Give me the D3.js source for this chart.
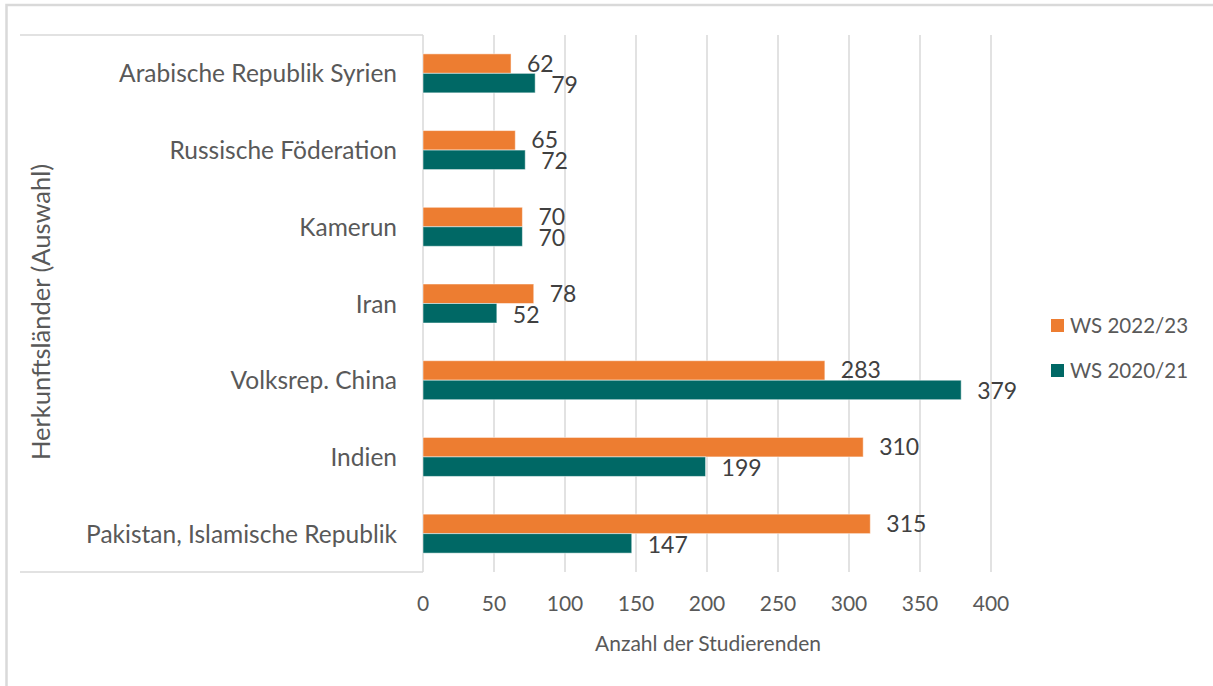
<!DOCTYPE html>
<html>
<head>
<meta charset="utf-8">
<script src="https://cdn.jsdelivr.net/npm/d3@7"></script>
<style>
  body { margin: 0; background: #fff; }
  svg { display: block; font-family: Lato, "Open Sans", sans-serif; }
</style>
</head>
<body>
<div id="chart"></div>
<script>
// categories top to bottom
const countries = [
  "Arabische Republik Syrien",
  "Russische Föderation",
  "Kamerun",
  "Iran",
  "Volksrep. China",
  "Indien",
  "Pakistan, Islamische Republik"
];
const seriesNames = ["WS 2022/23", "WS 2020/21"];
const ws2223 = [62, 65, 70, 78, 283, 310, 315];
const ws2021 = [79, 72, 70, 52, 379, 199, 147];
const xTicks = [0, 50, 100, 150, 200, 250, 300, 350, 400];

const colors = { "WS 2022/23": "#ED7D31", "WS 2020/21": "#006865" };

const W = 1213, H = 686;
const plot = { left: 423, right: 991, top: 35, bottom: 572 };

const svg = d3.select("#chart").append("svg")
  .attr("width", W)
  .attr("height", H);

// outer frame (runs off the right and bottom edge)
svg.append("rect")
  .attr("x", 6.5).attr("y", 5)
  .attr("width", 1400).attr("height", 900)
  .attr("fill", "none")
  .attr("stroke", "#d9d9d9")
  .attr("stroke-width", 2.5);

const x = d3.scaleLinear().domain([0, 400]).range([plot.left, plot.right]);
const y = d3.scaleBand().domain(countries).range([plot.top, plot.bottom]).padding(0);
const groupH = 39;
const ySub = d3.scaleBand().domain(seriesNames)
  .range([(y.bandwidth() - groupH) / 2, (y.bandwidth() + groupH) / 2]);

// gridlines
svg.append("g").selectAll("line")
  .data(xTicks)
  .enter().append("line")
  .attr("x1", d => x(d)).attr("x2", d => x(d))
  .attr("y1", plot.top).attr("y2", plot.bottom)
  .attr("stroke", "#d9d9d9")
  .attr("stroke-width", 1.5);

// category axis box lines
svg.append("line")
  .attr("x1", 20).attr("x2", plot.left)
  .attr("y1", plot.top).attr("y2", plot.top)
  .attr("stroke", "#d9d9d9").attr("stroke-width", 1.5);
svg.append("line")
  .attr("x1", 20).attr("x2", plot.left)
  .attr("y1", plot.bottom).attr("y2", plot.bottom)
  .attr("stroke", "#d9d9d9").attr("stroke-width", 1.5);

const rows = countries.map((c, i) => ({ country: c, values: [
  { series: "WS 2022/23", value: ws2223[i] },
  { series: "WS 2020/21", value: ws2021[i] }
]}));

const g = svg.append("g").selectAll("g")
  .data(rows)
  .enter().append("g")
  .attr("transform", d => `translate(0,${y(d.country)})`);

g.selectAll("rect")
  .data(d => d.values)
  .enter().append("rect")
  .attr("x", x(0))
  .attr("y", d => ySub(d.series))
  .attr("width", d => x(d.value) - x(0))
  .attr("height", ySub.bandwidth())
  .attr("fill", d => colors[d.series])
  .attr("stroke", "#fff")
  .attr("stroke-opacity", 0.5)
  .attr("stroke-width", 1);

// value labels (the reference lets close pairs touch)
g.selectAll("text")
  .data(d => d.values)
  .enter().append("text")
  .attr("x", d => x(d.value) + 16)
  .attr("y", (d, i) => ySub(d.series) + ySub.bandwidth() / 2 + (i === 0 ? 8 : 9.5))
  .attr("font-size", 23)
  .attr("fill", "#404040")
  .text(d => d.value);

// category labels
svg.append("g").selectAll("text")
  .data(countries)
  .enter().append("text")
  .attr("x", 397)
  .attr("y", d => y(d) + y.bandwidth() / 2 + 9)
  .attr("text-anchor", "end")
  .attr("font-size", 24.5)
  .attr("fill", "#595959")
  .text(d => d);

// x tick labels
svg.append("g").selectAll("text")
  .data(xTicks)
  .enter().append("text")
  .attr("x", d => x(d))
  .attr("y", 611)
  .attr("text-anchor", "middle")
  .attr("font-size", 21)
  .attr("fill", "#595959")
  .text(d => d);

// axis titles
svg.append("text")
  .attr("x", (plot.left + plot.right) / 2 + 1)
  .attr("y", 651)
  .attr("text-anchor", "middle")
  .attr("font-size", 21)
  .attr("fill", "#595959")
  .text("Anzahl der Studierenden");

svg.append("text")
  .attr("transform", "translate(50,312) rotate(-90)")
  .attr("text-anchor", "middle")
  .attr("font-size", 25.5)
  .attr("fill", "#595959")
  .text("Herkunftsländer (Auswahl)");

// legend
const legend = svg.append("g").selectAll("g")
  .data(seriesNames)
  .enter().append("g")
  .attr("transform", (d, i) => `translate(1051,${319 + i * 45})`);
legend.append("rect")
  .attr("width", 13).attr("height", 13)
  .attr("fill", d => colors[d]);
legend.append("text")
  .attr("x", 19).attr("y", 13.5)
  .attr("font-size", 20.5)
  .attr("fill", "#595959")
  .text(d => d);
</script>
</body>
</html>
